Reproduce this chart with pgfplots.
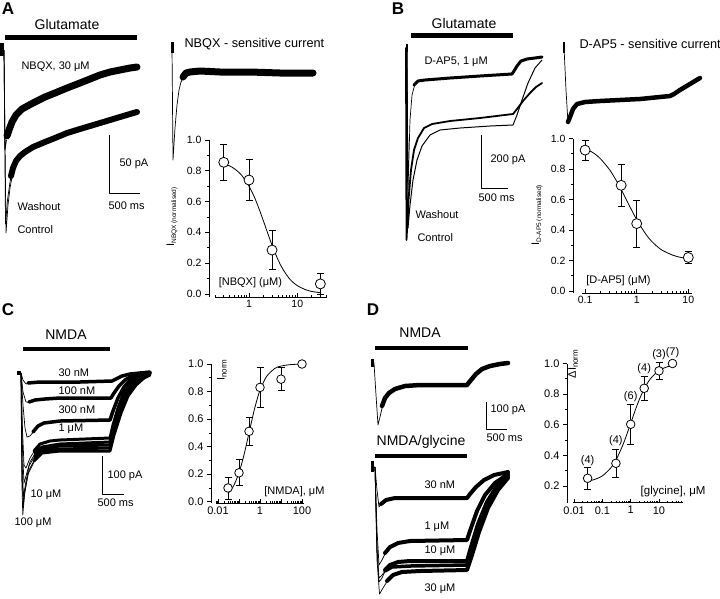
\documentclass[border=0pt]{standalone}
\usepackage{pgfplots}
\pgfplotsset{compat=1.18}
\usepackage{fontspec}
\setmainfont{Liberation Sans}
\newcommand{\fs}[1]{\fontsize{#1}{#1}\selectfont}
\tikzset{
  thn/.style={black, line width=0.7pt, line join=round},
  bnd/.style={black, line width=#1, line join=round, line cap=round},
}
\pgfplotsset{
  doseax/.style={scale only axis, clip=false,
    axis x line*=bottom, axis y line*=left,
    axis line style={black, line width=0.8pt, -},
    xtick align=inside, ytick align=outside,
    tick style={black, line width=0.7pt},
    major tick length=4pt, minor tick length=2.2pt,
    ytick={0,0.2,0.4,0.6,0.8,1.0}, minor y tick num=1,
    /pgf/number format/assume math mode=true,
    yticklabel style={/pgf/number format/fixed, /pgf/number format/fixed zerofill, /pgf/number format/precision=1},
    tick label style={font=\fs{10.5}},
  },
  pts/.style={only marks, mark=*, mark size=#1,
    mark options={fill=white, draw=black, line width=0.8pt},
    error bars/y dir=both, error bars/y explicit,
    error bars/error bar style={black, line width=0.8pt},
    error bars/error mark options={black, rotate=90, mark size=3.5pt, line width=0.8pt}},
  fitc/.style={black, line width=0.8pt, smooth},
}
\begin{document}
\begin{tikzpicture}
\useasboundingbox (0pt,0pt) rectangle (720pt,-599pt);
% ================= canvas for traces =================
\begin{axis}[at={(0pt,0pt)}, anchor=north west, scale only axis,
  width=720pt, height=599pt, xmin=0, xmax=720, ymin=0, ymax=599,
  y dir=reverse, hide axis, clip=false]
% ---------- Panel A ----------
\node[font={\fs{17}\bfseries}] at (axis cs:8,9) {A};
\node[font=\fs{14}] at (axis cs:67,24) {Glutamate};
\addplot[bnd=5pt, line cap=butt] coordinates {(5,37.5) (137,37.5)};
\addplot[bnd=3.5pt, line cap=butt] coordinates {(2,43) (2,56)};
\addplot[thn] coordinates {(4,50) (6,233) (8,205) (10,188) (13,172)};
\addplot[thn] coordinates {(4,50) (5.5,224) (7.5,200) (10,182) (13,168)};
\addplot[bnd=6pt] coordinates {(11,176) (13,168) (16,161) (20,156) (25,152) (33,147) (45,142) (55,138) (67,133) (80,129) (90,126) (100,123) (110,120) (120,117) (130,114) (137,112)};
\addplot[thn] coordinates {(4,50) (5,150) (6.5,140)};
\addplot[bnd=7pt] coordinates {(7,136) (9,130) (12,122) (16,115) (22,109) (33,103) (45,97) (55,93) (67,88) (80,83) (90,79) (100,75) (110,72) (120,70) (130,68) (137,67)};
\node[anchor=west, font=\fs{11}] at (axis cs:18,67) {NBQX, 30 μM};
\addplot[thn, line width=0.8pt] coordinates {(109,135) (109,193) (140,193)};
\node[anchor=west, font=\fs{11}] at (axis cs:116,164) {50 pA};
\node[anchor=west, font=\fs{11}] at (axis cs:105,206) {500 ms};
\node[anchor=west, font=\fs{11}] at (axis cs:14,207) {Washout};
\node[anchor=west, font=\fs{11}] at (axis cs:14,230) {Control};
% NBQX-sensitive current
\node[anchor=west, font=\fs{12.7}] at (axis cs:181,44) {NBQX - sensitive current};
\addplot[bnd=3pt, line cap=butt] coordinates {(172,42) (172,53)};
\addplot[thn] coordinates {(172,47) (173,160) (175,128) (177,105) (179,90) (181,82) (184,76)};
\addplot[bnd=7pt] coordinates {(183,77) (186,73) (190,72) (200,71) (220,72) (250,72) (280,73) (313,73)};
\node[rotate=90] at (axis cs:172,217) {\fs{11}I\raisebox{-2pt}{\fs{6.5}NBQX (normalised)}};
% ---------- Panel B ----------
\node[font={\fs{17}\bfseries}] at (axis cs:398,9) {B};
\node[font=\fs{14}] at (axis cs:464,23) {Glutamate};
\addplot[bnd=5pt, line cap=butt] coordinates {(411,35.5) (513,35.5)};
\addplot[bnd=2.5pt, line cap=butt] coordinates {(407,44) (407,52)};
\addplot[thn] coordinates {(407,48) (408,190) (410,120) (412,95) (415,84)};
\addplot[bnd=3pt] coordinates {(414,85) (418,81) (425,80) (450,78) (480,76) (512,74) (514,71) (517,66) (521,61) (527,59) (535,58) (542,57)};
\addplot[bnd=1.8pt] coordinates {(406,48) (406.5,240) (408.5,200) (411,170) (414,150) (418,138) (424,128) (432,124) (450,121) (480,118) (513,114) (517,109) (523,101) (530,93) (536,87) (542,83)};
\addplot[thn, line width=1pt] coordinates {(407,48) (408,228) (410,205) (413,180) (417,160) (422,146) (430,135) (440,130) (460,128) (490,126) (513,125) (517,115) (522,100) (528,83) (535,68) (542,60)};
\node[anchor=west, font=\fs{11}] at (axis cs:421,62) {D-AP5, 1 μM};
\addplot[thn, line width=0.8pt] coordinates {(481,135) (481,188) (508,188)};
\node[anchor=west, font=\fs{11}] at (axis cs:487,160) {200 pA};
\node[anchor=west, font=\fs{11}] at (axis cs:475,198) {500 ms};
\node[anchor=west, font=\fs{11}] at (axis cs:412,215) {Washout};
\node[anchor=west, font=\fs{11}] at (axis cs:414,238) {Control};
% D-AP5-sensitive current
\node[anchor=west, font=\fs{12.7}] at (axis cs:576,44) {D-AP5 - sensitive current};
\addplot[bnd=2.5pt, line cap=butt] coordinates {(564,42) (564,53)};
\addplot[thn] coordinates {(564,47) (566,90) (568,123)};
\addplot[bnd=4.5pt] coordinates {(568,122) (570,117) (573,109) (577,104) (585,102) (600,101) (620,100) (640,99) (660,97) (670,96) (674,94) (680,90) (690,84) (700,78)};
\node[rotate=90] at (axis cs:537,215) {\fs{11}I\raisebox{-2pt}{\fs{6.5}D-AP5 (normalised)}};
% ---------- Panel C ----------
\node[font={\fs{17}\bfseries}] at (axis cs:8,310) {C};
\node[font=\fs{14}] at (axis cs:66,335) {NMDA};
\addplot[bnd=4pt, line cap=butt] coordinates {(23,349) (110,349)};
\addplot[bnd=4pt, line cap=butt] coordinates {(17,373) (21,373)};
% 30 nM
\addplot[thn] coordinates {(21,373) (23,380) (26,384) (30,383)};
\addplot[bnd=3.5pt] coordinates {(28,383) (40,382) (60,382) (80,382) (112,381) (116,379) (122,376) (130,374) (140,373) (150,372)};
% 100 nM
\addplot[thn] coordinates {(21,373) (23,392) (26,402) (30,402)};
\addplot[bnd=3.5pt] coordinates {(29,402) (35,400) (45,399) (60,398) (111,398) (114,393) (119,386) (125,380) (132,376) (140,374) (150,373)};
% 300 nM
\addplot[thn] coordinates {(21,373) (23,405) (25,428) (27,437) (30,436) (34,431)};
\addplot[bnd=3.5pt] coordinates {(33,432) (38,426) (44,423) (60,421) (110,420) (113,411) (118,398) (124,387) (131,379) (140,375) (150,373)};
% 1 uM
\addplot[thn] coordinates {(21,373) (22.5,430) (24,465) (26,468) (30,458) (35,450)};
\addplot[bnd=3pt] coordinates {(34,451) (40,444) (50,441) (60,440) (110,438) (113,425) (118,408) (124,392) (131,382) (140,376) (150,373)};
% 3 uM
\addplot[thn] coordinates {(21,373) (22.5,450) (24,483) (26,476) (30,462) (36,452)};
\addplot[bnd=3pt] coordinates {(35,453) (42,447) (60,444) (110,442) (113,428) (118,410) (124,394) (132,383) (141,377) (150,374)};
% 10 uM
\addplot[thn] coordinates {(21,373) (22,460) (23.5,497) (25.5,484) (29,466) (36,454)};
\addplot[bnd=3pt] coordinates {(35,455) (42,449) (60,446) (110,445) (113,431) (119,411) (125,395) (133,384) (142,377) (150,374)};
% 30 uM
\addplot[thn] coordinates {(21,373) (22,470) (23.2,506) (25,490) (29,470) (36,457)};
\addplot[bnd=3pt] coordinates {(35,458) (42,451) (60,449) (110,448) (114,432) (120,412) (127,395) (135,384) (143,377) (150,374)};
% 100 uM
\addplot[thn] coordinates {(21,373) (21.8,480) (22.8,515) (24.5,495) (28,474) (35,460)};
\addplot[bnd=3pt] coordinates {(34,461) (42,453) (60,451) (110,451) (114,435) (121,413) (128,396) (136,385) (144,378) (150,375)};
\node[anchor=west, font=\fs{11}] at (axis cs:55,373) {30 nM};
\node[anchor=west, font=\fs{11}] at (axis cs:55,391) {100 nM};
\node[anchor=west, font=\fs{11}] at (axis cs:55,410) {300 nM};
\node[anchor=west, font=\fs{11}] at (axis cs:55,429) {1 μM};
\node[anchor=west, font=\fs{11}] at (axis cs:27,495) {10 μM};
\node[anchor=west, font=\fs{11}] at (axis cs:11,523) {100 μM};
\addplot[thn, line width=0.8pt] coordinates {(102,456) (102,494) (124,494)};
\node[anchor=west, font=\fs{11}] at (axis cs:104,476) {100 pA};
\node[anchor=west, font=\fs{11}] at (axis cs:94,503) {500 ms};
\node[anchor=east, font=\fs{11}] at (axis cs:328,492) {[NMDA], μM};
\node[rotate=90] at (axis cs:222,370) {\fs{11}I\raisebox{-2pt}{\fs{8}norm}};
% ---------- Panel D ----------
\node[font={\fs{17}\bfseries}] at (axis cs:373,310) {D};
\node[font=\fs{14}] at (axis cs:420,333) {NMDA};
\addplot[bnd=4pt, line cap=butt] coordinates {(375,348) (468,348)};
\addplot[bnd=3pt, line cap=butt] coordinates {(372,359) (372,367)};
\addplot[thn] coordinates {(372,363) (374,363) (376,395) (378,425) (380,417) (383,404)};
\addplot[bnd=4.5pt] coordinates {(382,406) (385,398) (389,393) (395,389) (405,386) (420,385) (467,385) (471,380) (476,374) (482,369) (490,366) (500,364) (508,363)};
\addplot[thn, line width=0.8pt] coordinates {(486,402) (486,429) (507,429)};
\node[anchor=west, font=\fs{11}] at (axis cs:487,410) {100 pA};
\node[anchor=west, font=\fs{11}] at (axis cs:483,438) {500 ms};
\node[font=\fs{14}] at (axis cs:421,442) {NMDA/glycine};
\addplot[bnd=4pt, line cap=butt] coordinates {(375,456) (467,456)};
\addplot[bnd=3pt, line cap=butt] coordinates {(372,461) (372,472)};
% 30 nM
\addplot[thn] coordinates {(372,467) (375,467) (377,490) (379,507) (382,503)};
\addplot[bnd=4pt] coordinates {(381,504) (386,500) (395,498) (420,498) (467,498) (470,494) (476,487) (484,480) (494,475) (508,472)};
% 1 uM
\addplot[thn] coordinates {(375,467) (377,530) (379,565) (382,560) (386,552)};
\addplot[bnd=4pt] coordinates {(385,553) (390,547) (398,543) (410,541) (467,540) (471,528) (477,511) (485,495) (495,483) (508,474)};
% 3 uM
\addplot[thn] coordinates {(375,467) (377,548) (379,578) (382,575) (386,570)};
\addplot[bnd=3.5pt] coordinates {(385,571) (392,567) (410,566) (467,565) (471,550) (478,526) (487,503) (497,487) (508,475)};
% 10 uM
\addplot[thn] coordinates {(375,467) (377,550) (379,582) (382,578) (386,569)};
\addplot[bnd=4pt] coordinates {(385,570) (390,565) (398,562) (410,561) (467,561) (471,547) (478,524) (487,502) (497,486) (508,476)};
% 30 uM
\addplot[thn] coordinates {(375,467) (377,560) (379.5,594) (383,588) (388,580)};
\addplot[bnd=4pt] coordinates {(387,581) (393,575) (402,572) (420,571) (467,570) (472,555) (479,532) (488,508) (498,490) (508,478)};
\node[anchor=west, font=\fs{11}] at (axis cs:421,485) {30 nM};
\node[anchor=west, font=\fs{11}] at (axis cs:421,527) {1 μM};
\node[anchor=west, font=\fs{11}] at (axis cs:421,551) {10 μM};
\node[anchor=west, font=\fs{11}] at (axis cs:421,589) {30 μM};
\node[anchor=east, font=\fs{11.5}] at (axis cs:709,492) {[glycine], μM};
\node[rotate=90] at (axis cs:573,364) {\fs{11}ΔI\raisebox{-2pt}{\fs{8}norm}};
\end{axis}
% ================= A dose-response =================
\begin{axis}[xmode=log, doseax, at={(209pt,-297pt)}, anchor=south west,
  width=118pt, height=157pt, xmin=0.1485, xmax=41.2, ymin=-0.02, ymax=1.0,
  xtick={1,10}, xticklabels={1,10},
  minor xtick={0.2,0.3,0.4,0.5,0.6,0.7,0.8,0.9,2,3,4,5,6,7,8,9,20,30,40},
  x axis line style={shorten <=6pt}]
\addplot[fitc] coordinates {(0.3,0.847) (0.4,0.831) (0.5,0.813) (0.7,0.772) (1,0.700) (1.3,0.627) (1.6,0.556) (2,0.472) (2.5,0.385) (3,0.317) (4,0.221) (5,0.162) (7,0.096) (10,0.054) (15,0.027) (20,0.016) (30,0.008)};
\addplot[pts=5pt] coordinates {(0.3,0.855) +- (0,0.115) (1,0.74) +- (0,0.135) (3,0.285) +- (0,0.125) (30,0.065) +- (0,0.07)};
\node[anchor=west, font=\fs{11}] at (axis cs:0.2,0.07) {[NBQX] (μM)};
\end{axis}
% ================= B dose-response =================
\begin{axis}[xmode=log, doseax, at={(573pt,-293pt)}, anchor=south west,
  width=119pt, height=154.5pt, xmin=0.0583, xmax=11.8, ymin=-0.013, ymax=1.0,
  xtick={0.1,1,10}, xticklabels={0.1,1,10},
  minor xtick={0.2,0.3,0.4,0.5,0.6,0.7,0.8,0.9,2,3,4,5,6,7,8,9},
  x axis line style={shorten <=9pt}]
\addplot[fitc] coordinates {(0.1,0.936) (0.15,0.902) (0.2,0.866) (0.3,0.794) (0.4,0.726) (0.5,0.666) (0.7,0.568) (1,0.468) (1.5,0.373) (2,0.322) (3,0.271) (5,0.235) (7,0.221) (10,0.213)};
\addplot[pts=5pt] coordinates {(0.1,0.924) +- (0,0.065) (0.5,0.693) +- (0,0.14) (1,0.442) +- (0,0.153) (10,0.22) +- (0,0.04)};
\node[anchor=west, font=\fs{11}] at (axis cs:0.09,0.07) {[D-AP5] (μM)};
\end{axis}
% ================= C dose-response =================
\begin{axis}[xmode=log, doseax, at={(211pt,-503.1pt)}, anchor=south west,
  width=93.4pt, height=139.1pt, xmin=0.00464, xmax=130, ymin=-0.01, ymax=1.0,
  xtick={0.01,0.1,1,10,100}, xticklabels={0.01,,1,,100},
  minor xtick={0.008,0.009,0.02,0.03,0.04,0.05,0.06,0.07,0.08,0.09,0.2,0.3,0.4,0.5,0.6,0.7,0.8,0.9,2,3,4,5,6,7,8,9,20,30,40,50,60,70,80,90},
  x axis line style={shorten <=5pt}, tick label style={font=\fs{11}}]
\addplot[fitc] coordinates {(0.03,0.059) (0.05,0.104) (0.07,0.149) (0.1,0.211) (0.15,0.303) (0.2,0.381) (0.3,0.5) (0.5,0.649) (0.7,0.734) (1,0.809) (2,0.907) (5,0.967) (10,0.985) (30,0.996) (100,0.999)};
\addplot[pts=4.3pt] coordinates {(0.03,0.10) +- (0,0.08) (0.1,0.21) +- (0,0.095) (0.3,0.511) +- (0,0.1) (1,0.83) +- (0,0.145) (10,0.89) +- (0,0.085) (100,1.0) +- (0,0)};
\end{axis}
% ================= D dose-response =================
\begin{axis}[xmode=log, doseax, at={(567pt,-502.8pt)}, anchor=south west,
  width=115.9pt, height=139.3pt, xmin=0.0056, xmax=70, ymin=0.09, ymax=1.0,
  ytick={0.2,0.4,0.6,0.8,1.0},
  xtick={0.01,0.1,1,10}, xticklabels={0.01,0.1,1,10},
  minor xtick={0.02,0.03,0.04,0.05,0.06,0.07,0.08,0.09,0.2,0.3,0.4,0.5,0.6,0.7,0.8,0.9,2,3,4,5,6,7,8,9,20,30,40,50,60},
  x axis line style={shorten <=6pt}, tick label style={font=\fs{11}}]
\addplot[fitc] coordinates {(0.03,0.231) (0.05,0.241) (0.1,0.266) (0.2,0.319) (0.3,0.369) (0.5,0.457) (0.7,0.528) (1,0.61) (1.5,0.703) (2,0.763) (3,0.835) (5,0.901) (10,0.954) (20,0.979) (30,0.987)};
\addplot[pts=4.3pt] coordinates {(0.03,0.25) +- (0,0.07) (0.3,0.348) +- (0,0.09) (1,0.603) +- (0,0.13) (3,0.838) +- (0,0.076) (10,0.952) +- (0,0.055) (30,1.0) +- (0,0)};
\node[font=\fs{11}] at (axis cs:0.03,0.367) {(4)};
\node[font=\fs{11}] at (axis cs:0.3,0.493) {(4)};
\node[font=\fs{11}] at (axis cs:1,0.785) {(6)};
\node[font=\fs{11}] at (axis cs:3,0.966) {(4)};
\node[font=\fs{11}] at (axis cs:10,1.057) {(3)};
\node[font=\fs{11}] at (axis cs:30,1.074) {(7)};
\end{axis}
\end{tikzpicture}
\end{document}
